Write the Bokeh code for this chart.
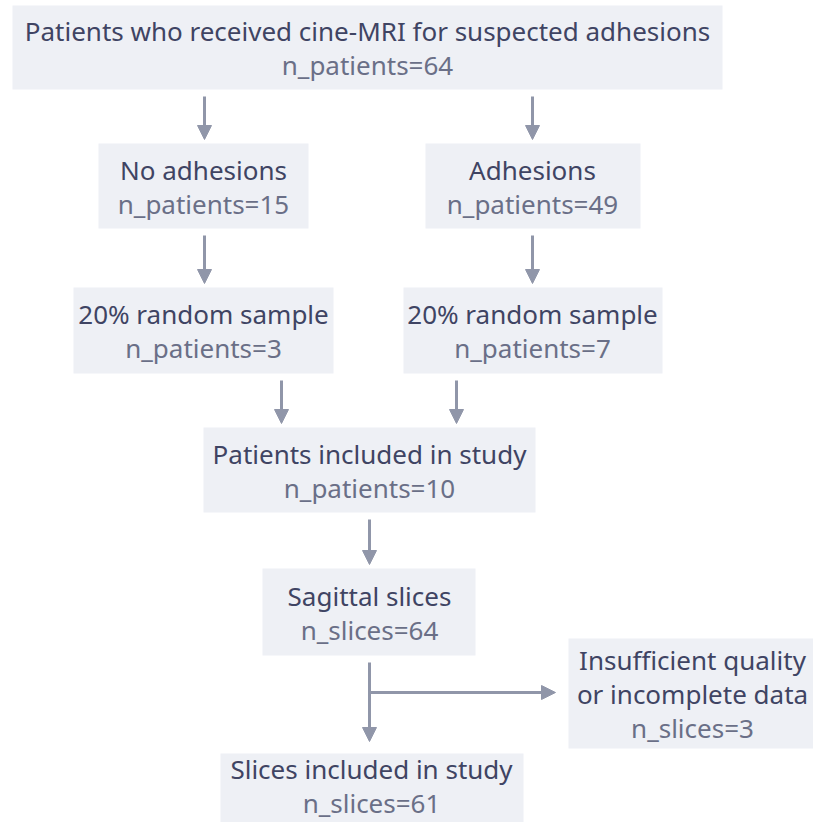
from bokeh.plotting import figure
from bokeh.models import Range1d, Arrow, NormalHead, ColumnDataSource
from bokeh.core.properties import value
from bokeh.embed import file_html
from bokeh.resources import INLINE

# ---- data ----
titles = [
    ["Patients who received cine-MRI for suspected adhesions"],
    ["No adhesions"],
    ["Adhesions"],
    ["20% random sample"],
    ["20% random sample"],
    ["Patients included in study"],
    ["Sagittal slices"],
    ["Insufficient quality", "or incomplete data"],
    ["Slices included in study"],
]
count_labels = ["n_patients", "n_patients", "n_patients", "n_patients", "n_patients",
                "n_patients", "n_slices", "n_slices", "n_slices"]
counts = [64, 15, 49, 3, 7, 10, 64, 3, 61]

# ---- layout (box edges: left, right, top, bottom in picture pixels) ----
box_left = [12, 98, 425, 73, 403, 203, 262, 568, 220]
box_right = [722, 308, 640, 333, 662, 535, 475, 840, 523]
box_top = [5, 143, 143, 287, 287, 427, 568, 638, 753]
box_bottom = [89, 228, 228, 373, 373, 512, 655, 748, 845]
# centre of the text block in each box
text_cx = [367, 203, 532, 203, 532, 369, 369, 692, 371]
text_cy = [47, 186, 186, 330, 330, 470, 612, 693, 785]

# arrows: (from box, to box, x)
links = [(0, 1, 204), (0, 2, 532), (1, 3, 204), (2, 4, 532),
         (3, 5, 281), (4, 5, 456), (5, 6, 369), (6, 8, 369)]
branch_y = 692

FILL = "#eef0f5"
C1 = "#3f4463"
C2 = "#6a6f87"
AC = "#9096a9"

W, H = 813, 822
p = figure(width=W, height=H, output_backend="svg", toolbar_location=None,
           x_range=Range1d(0, W), y_range=Range1d(H, 0),
           min_border=0, outline_line_color=None)
p.axis.visible = False
p.grid.visible = False
p.background_fill_color = "white"
p.border_fill_color = "white"

p.quad(left=box_left, right=box_right, top=box_top, bottom=box_bottom,
       fill_color=FILL, line_color=None)

tx, ty, tt, tc = [], [], [], []
LS = 34
for i in range(len(titles)):
    lines = titles[i] + [f"{count_labels[i]}={counts[i]}"]
    n = len(lines)
    for j, s in enumerate(lines):
        tx.append(text_cx[i])
        ty.append(text_cy[i] + (j - (n - 1) / 2) * LS)
        tt.append(s)
        tc.append(C2 if j == n - 1 else C1)

src = ColumnDataSource(dict(x=tx, y=ty, text=tt, color=tc))
p.text(x="x", y="y", text="text", source=src, text_color="color",
       text_align="center", text_baseline="middle",
       text_font=value("Noto Sans"), text_font_size="26px")

for a, b, x in links:
    y0 = box_bottom[a] + 7
    y1 = box_top[b] - 4
    if b == 8:
        y1 = box_top[b] - 12
    p.add_layout(Arrow(end=NormalHead(size=14, fill_color=AC, line_color=AC),
                       x_start=x, y_start=y0, x_end=x, y_end=y1,
                       line_color=AC, line_width=3))

# side branch to excluded box
p.add_layout(Arrow(end=NormalHead(size=14, fill_color=AC, line_color=AC),
                   x_start=369, y_start=branch_y, x_end=box_left[7] - 13, y_end=branch_y,
                   line_color=AC, line_width=3))

open("out.html", "w").write(file_html(p, INLINE))
